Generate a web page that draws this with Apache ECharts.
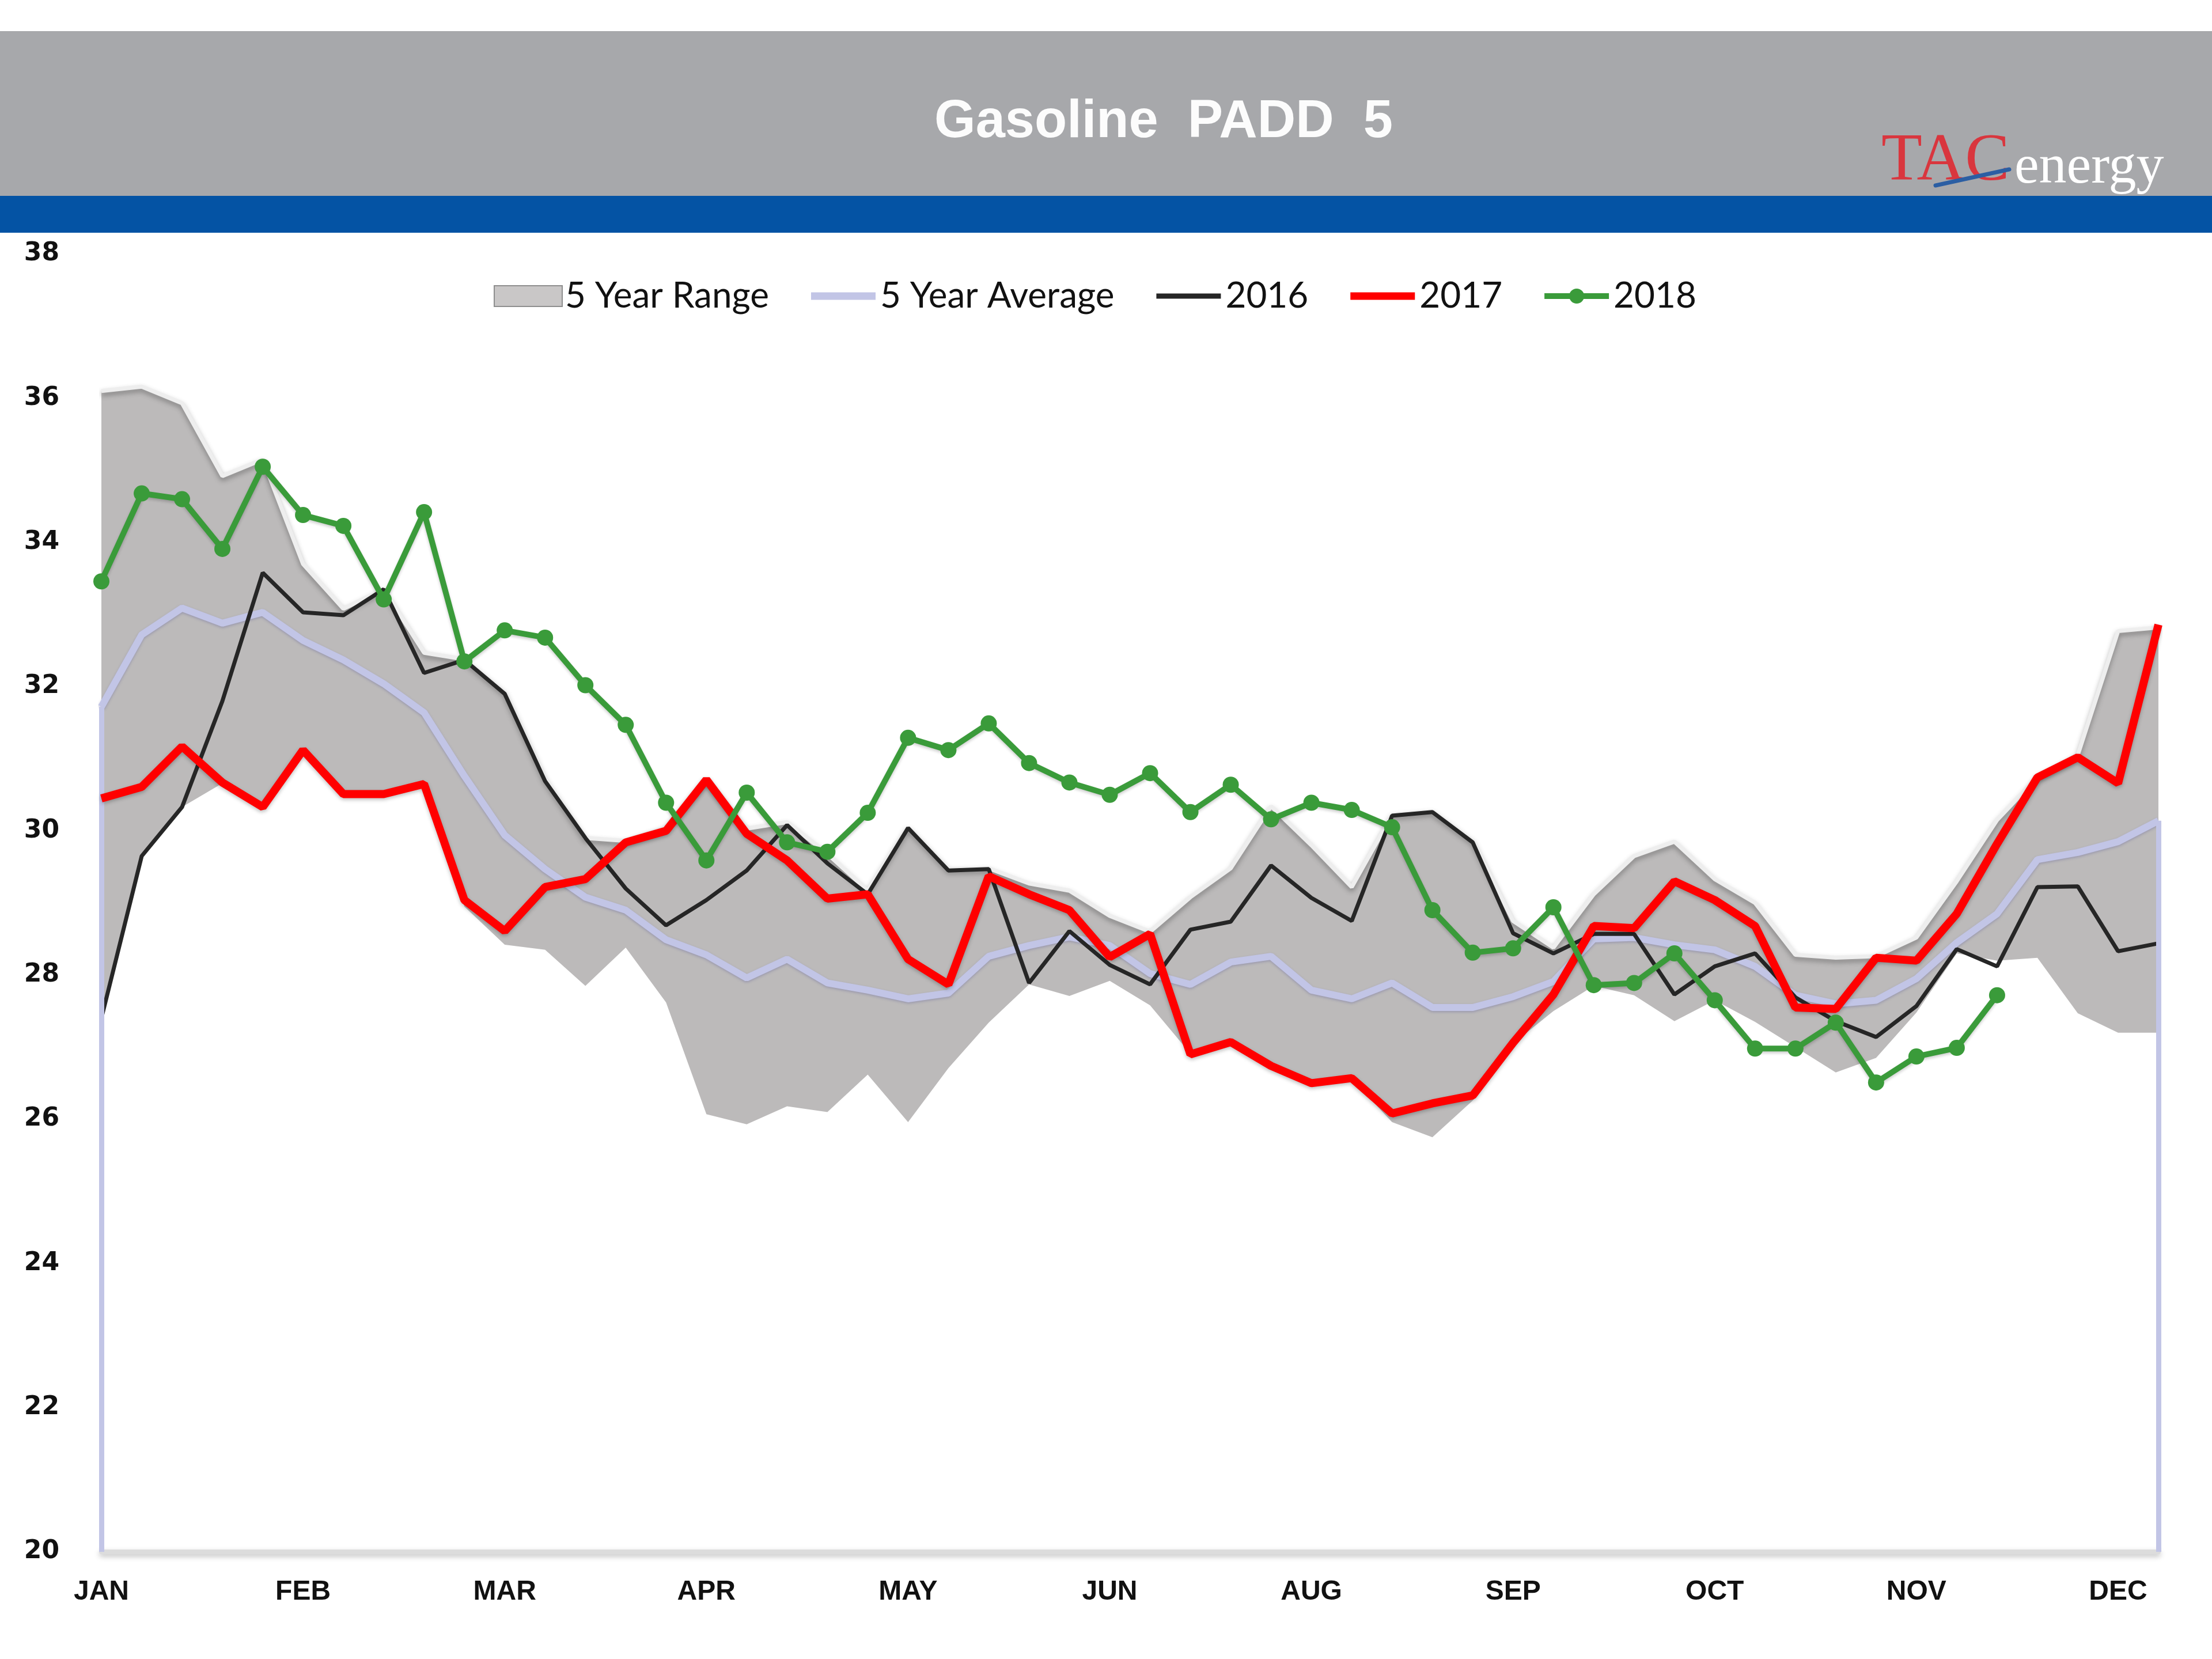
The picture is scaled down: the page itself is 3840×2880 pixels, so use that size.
<!DOCTYPE html>
<html>
<head>
<meta charset="utf-8">
<script src="https://cdn.jsdelivr.net/npm/echarts@6/dist/echarts.min.js"></script>
<style>
html,body{margin:0;padding:0;background:#fff;}
#chart{width:3840px;height:2880px;}
</style>
</head>
<body>
<div id="chart"></div>
<script>
// ---- data (weekly, 52 weeks) ----
const weekNumbers = ['1','2','3','4','5','6','7','8','9','10','11','12','13','14','15','16','17','18','19','20','21','22','23','24','25','26','27','28','29','30','31','32','33','34','35','36','37','38','39','40','41','42','43','44','45','46','47','48','49','50','51','52'];
const tickLabels = ['JAN','','','','','FEB','','','','','MAR','','','','','APR','','','','','MAY','','','','','JUN','','','','','AUG','','','','','SEP','','','','','OCT','','','','','NOV','','','','','DEC',''];
const yTicks = {min: 20, max: 38, step: 2};

const rangeHigh = [36.10, 36.16, 35.93, 34.92, 35.15, 33.70, 33.08, 33.35, 32.47, 32.38,
  31.92, 30.72, 29.90, 29.86, 30.05, 30.72, 30.03, 30.12, 29.68, 29.17,
  30.05, 29.47, 29.48, 29.27, 29.17, 28.82, 28.60, 29.08, 29.48, 30.34,
  29.80, 29.22, 30.22, 30.27, 29.86, 28.75, 28.38, 29.12, 29.65, 29.85,
  29.33, 29.00, 28.28, 28.24, 28.26, 28.52, 29.30, 30.15, 30.74, 31.05,
  32.77, 32.82];
const rangeLow = [27.40, 29.65, 30.33, 30.66, 30.33, 31.10, 30.50, 30.50, 30.64, 28.95,
  28.42, 28.35, 27.85, 28.38, 27.62, 26.07, 25.93, 26.18, 26.10, 26.62,
  25.96, 26.71, 27.34, 27.87, 27.71, 27.92, 27.58, 26.91, 27.05, 26.71,
  26.50, 26.56, 25.96, 25.75, 26.26, 27.05, 27.50, 27.85, 27.72, 27.36,
  27.65, 27.35, 27.00, 26.65, 26.85, 27.48, 28.30, 28.20, 28.24, 27.47,
  27.20, 27.20];
const avg5 = [31.72, 32.72, 33.09, 32.88, 33.03, 32.64, 32.37, 32.04, 31.64, 30.76,
  29.94, 29.47, 29.08, 28.90, 28.49, 28.28, 27.96, 28.22, 27.89, 27.79,
  27.67, 27.75, 28.26, 28.41, 28.53, 28.41, 28.02, 27.87, 28.18, 28.26,
  27.79, 27.67, 27.89, 27.55, 27.55, 27.70, 27.91, 28.50, 28.52, 28.42,
  28.35, 28.12, 27.72, 27.60, 27.65, 27.95, 28.45, 28.85, 29.60, 29.70,
  29.85, 30.14];
const y2016 = [27.40, 29.65, 30.33, 31.80, 33.58, 33.03, 32.99, 33.35, 32.19, 32.37,
  31.90, 30.69, 29.90, 29.20, 28.69, 29.04, 29.45, 30.08, 29.55, 29.12,
  30.04, 29.45, 29.47, 27.89, 28.61, 28.14, 27.87, 28.63, 28.74, 29.52,
  29.07, 28.75, 30.21, 30.26, 29.84, 28.58, 28.30, 28.57, 28.57, 27.73,
  28.12, 28.30, 27.69, 27.36, 27.14, 27.57, 28.36, 28.12, 29.22, 29.23,
  28.33, 28.44];
const y2017 = [30.45, 30.61, 31.17, 30.67, 30.33, 31.12, 30.51, 30.51, 30.65, 29.04,
  28.61, 29.22, 29.33, 29.84, 30.00, 30.71, 29.96, 29.59, 29.06, 29.12,
  28.22, 27.87, 29.37, 29.12, 28.90, 28.25, 28.57, 26.90, 27.07, 26.74,
  26.50, 26.57, 26.08, 26.22, 26.33, 27.06, 27.73, 28.68, 28.65, 29.30,
  29.04, 28.68, 27.55, 27.53, 28.24, 28.20, 28.85, 29.82, 30.74, 31.02,
  30.66, 32.86];
const y2018 = [33.46, 34.68, 34.60, 33.91, 35.05, 34.38, 34.23, 33.21, 34.42, 32.35,
  32.78, 32.68, 32.02, 31.47, 30.39, 29.59, 30.53, 29.84, 29.71, 30.25,
  31.29, 31.12, 31.49, 30.94, 30.67, 30.50, 30.80, 30.26, 30.64, 30.16,
  30.39, 30.29, 30.05, 28.90, 28.31, 28.37, 28.94, 27.86, 27.89, 28.30,
  27.65, 26.98, 26.98, 27.34, 26.51, 26.87, 26.99, 27.72];

const rangeSpan = rangeHigh.map((v, i) => +(v - rangeLow[i]).toFixed(3));
const lastIdx = weekNumbers.length - 1;

// legend icon shapes (box 112 x 36)
const frame = 'M0,0L112,0L112,0.01L0,0.01Z M0,35.99L112,35.99L112,36L0,36Z ';
const barIcon = (h) => 'path://' + frame + 'M0,' + (18 - h / 2) + 'L112,' + (18 - h / 2) + 'L112,' + (18 + h / 2) + 'L0,' + (18 + h / 2) + 'Z';
const dotIcon = 'path://' + frame + 'M0,13L44,13L44,23L0,23Z M68,13L112,13L112,23L68,23Z M43,18A13,13 0 1,1 69,18A13,13 0 1,1 43,18Z';

const chart = echarts.init(document.getElementById('chart'), null, {renderer: 'canvas'});
const option = {
  backgroundColor: '#ffffff',
  animation: false,
  graphic: [
    {type: 'rect', z: 0, shape: {x: 0, y: 54, width: 3840, height: 288}, style: {fill: '#a7a8ab'}},
    {type: 'rect', z: 0, shape: {x: 0, y: 340, width: 3840, height: 64}, style: {fill: '#0453a4'}},
    {type: 'text', z: 2, x: 2020, y: 213, style: {
      text: 'Gasoline  PADD  5', textAlign: 'center', textVerticalAlign: 'middle',
      font: 'bold 92px "Liberation Sans", Arial, sans-serif', fill: '#fcfcfc',
      shadowColor: 'rgba(0,0,0,0.65)', shadowBlur: 6, shadowOffsetX: 2, shadowOffsetY: 4}},
    {type: 'text', z: 2, x: 3266, y: 340, style: {
      text: 'TAC', textAlign: 'left', textVerticalAlign: 'bottom',
      font: '116px "Liberation Serif", "DejaVu Serif", serif', fill: '#d9363e'}},
    {type: 'line', z: 3, shape: {x1: 3360, y1: 322, x2: 3488, y2: 294}, style: {stroke: '#2b5ea3', lineWidth: 7, lineCap: 'round'}},
    {type: 'text', z: 2, x: 3497, y: 340, style: {
      text: 'energy', textAlign: 'left', textVerticalAlign: 'bottom',
      font: '96px "Liberation Serif", "DejaVu Serif", serif', fill: '#ffffff'}}
  ],
  legend: {
    left: 857, top: 483, padding: 0,
    itemGap: 73, itemWidth: 118, itemHeight: 36,
    selectedMode: false,
    textStyle: {fontFamily: 'Lato, "Open Sans", sans-serif', fontSize: 62, color: '#111111'},
    data: [
      {name: '5 Year Range', icon: 'rect', itemStyle: {color: '#c9c7c7', borderColor: '#8e8e8e', borderWidth: 2}},
      {name: '5 Year Average', icon: barIcon(13), itemStyle: {color: '#c2c5e6', borderWidth: 0}},
      {name: '2016', icon: barIcon(9), itemStyle: {color: '#262626', borderWidth: 0}},
      {name: '2017', icon: barIcon(13), itemStyle: {color: '#ff0000', borderWidth: 0}},
      {name: '2018', icon: dotIcon, itemStyle: {color: '#3a9b3a', borderWidth: 0}}
    ]
  },
  grid: {left: 176, right: 93, top: 441, bottom: 186, containLabel: false},
  xAxis: {
    type: 'category', boundaryGap: false, data: weekNumbers,
    axisLine: {show: true, lineStyle: {color: '#dcdcdc', width: 8, shadowColor: 'rgba(0,0,0,0.25)', shadowBlur: 10, shadowOffsetY: 4}},
    axisTick: {show: false},
    splitLine: {show: false},
    axisLabel: {
      interval: 0, margin: 46, color: '#111111',
      fontFamily: '"Liberation Sans", Arial, sans-serif', fontWeight: 'bold', fontSize: 48,
      formatter: (v, idx) => tickLabels[idx]
    }
  },
  yAxis: {
    type: 'value', min: yTicks.min, max: yTicks.max, interval: yTicks.step,
    axisLine: {show: false}, axisTick: {show: false}, splitLine: {show: false},
    axisLabel: {margin: 73, color: '#111111', fontFamily: '"DejaVu Sans", sans-serif', fontWeight: 'bold', fontSize: 44}
  },
  series: [
    {
      name: 'rangeBase', type: 'line', stack: 'range', data: rangeLow,
      symbol: 'none', lineStyle: {opacity: 0}, silent: true, z: 1
    },
    {
      name: '5 Year Range', type: 'line', stack: 'range', data: rangeSpan,
      symbol: 'none', silent: true, z: 1,
      lineStyle: {color: '#eeeeee', width: 7, shadowColor: 'rgba(60,60,60,0.45)', shadowBlur: 8, shadowOffsetY: 5},
      itemStyle: {color: '#c9c7c7'},
      areaStyle: {color: '#bcbaba', opacity: 1}
    },
    {
      name: '5 Year Average', type: 'line', data: avg5, symbol: 'none', z: 3,
      itemStyle: {color: '#c2c5e6'},
      lineStyle: {color: '#c2c5e6', width: 12, shadowColor: 'rgba(90,90,150,0.35)', shadowBlur: 4, shadowOffsetY: 2},
      markLine: {
        silent: true, symbol: 'none', animation: false,
        label: {show: false},
        lineStyle: {color: '#c2c5e6', width: 9, type: 'solid'},
        data: [
          [{coord: [weekNumbers[0], avg5[0]]}, {coord: [weekNumbers[0], yTicks.min]}],
          [{coord: [weekNumbers[lastIdx], avg5[lastIdx]]}, {coord: [weekNumbers[lastIdx], yTicks.min]}]
        ]
      }
    },
    {
      name: '2016', type: 'line', data: y2016, symbol: 'none', z: 4,
      itemStyle: {color: '#262626'},
      lineStyle: {color: '#262626', width: 7}
    },
    {
      name: '2017', type: 'line', data: y2017, symbol: 'none', z: 5,
      itemStyle: {color: '#ff0000'},
      lineStyle: {color: '#ff0000', width: 14, shadowColor: 'rgba(0,0,0,0.25)', shadowBlur: 6, shadowOffsetY: 3}
    },
    {
      name: '2018', type: 'line', data: y2018, symbol: 'circle', symbolSize: 28, z: 6,
      itemStyle: {color: '#3a9b3a'},
      lineStyle: {color: '#3a9b3a', width: 10, shadowColor: 'rgba(0,0,0,0.2)', shadowBlur: 5, shadowOffsetY: 3}
    }
  ]
};
chart.setOption(option);
</script>
</body>
</html>
